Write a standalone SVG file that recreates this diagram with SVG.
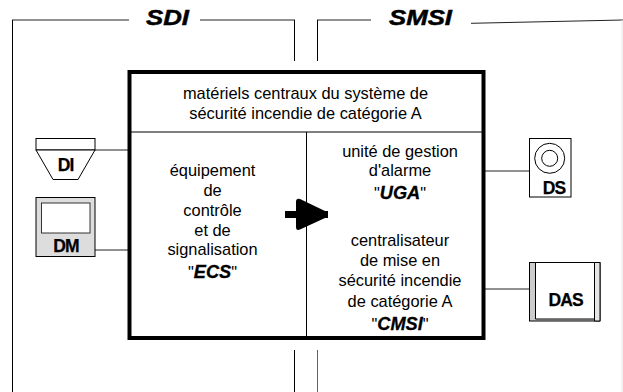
<svg xmlns="http://www.w3.org/2000/svg" width="623" height="392" viewBox="0 0 623 392">
<style>
text{font-family:"Liberation Sans",Arial,sans-serif;fill:#000}
.t{font-size:16.4px;text-anchor:middle}
.b{font-size:17.5px;font-weight:bold;text-anchor:middle;letter-spacing:-.8px;stroke:#000;stroke-width:.25px}
.h{font-size:22px;font-weight:bold;font-style:italic;stroke:#000;stroke-width:.5px}
.l{fill:none;stroke:#000;stroke-width:1}
.g{fill:none;stroke:#222;stroke-width:1}
.n{fill:#fff;stroke:#000;stroke-width:1}
.i{font-weight:bold;font-style:italic;font-size:18.2px;stroke:#000;stroke-width:.3px}
</style>
<rect width="623" height="392" fill="#fff"/>
<g id="connectors">
<path class="g" d="M12 20H129M200 20H295M317 20H371M471 23.300L623 20"/>
<path class="l" d="M12.500 20V392M294.500 20V61M317.500 20V61M294.500 350V392"/>
<path class="g" d="M317.500 350V392" stroke-opacity=".7"/>
<path d="M622 20V392" fill="none" stroke="#e4e4e4"/>
<path class="g" d="M95 150H128M95 250H128M485 171H529M485 289H529"/>
</g>
<g id="frames">
<text class="h" x="146" y="25" textLength="43" lengthAdjust="spacingAndGlyphs">SDI</text>
<text class="h" x="389" y="25" textLength="63" lengthAdjust="spacingAndGlyphs">SMSI</text>
</g>
<g id="central">
<rect x="129.500" y="72" width="354" height="266" fill="#fff" stroke="#000" stroke-width="4"/>
<path class="l" d="M130 132H483M306.500 132V338"/>
<text class="t" x="305.500" y="99.300">matériels centraux du système de</text>
<text class="t" x="305.500" y="119.300">sécurité incendie de catégorie A</text>
</g>
<g id="ecs">
<text class="t" x="212.500" y="176">équipement</text>
<text class="t" x="212.500" y="196">de</text>
<text class="t" x="212.500" y="216">contrôle</text>
<text class="t" x="212.500" y="236">et de</text>
<text class="t" x="212.500" y="255">signalisation</text>
<text class="t" x="212.500" y="278">"<tspan class="i">ECS</tspan>"</text>
</g>
<g id="uga">
<text class="t" x="400" y="156.700">unité de gestion</text>
<text class="t" x="400" y="176">d'alarme</text>
<text class="t" x="400" y="199">"<tspan class="i">UGA</tspan>"</text>
</g>
<g id="cmsi">
<text class="t" x="400" y="246">centralisateur</text>
<text class="t" x="400" y="266">de mise en</text>
<text class="t" x="400" y="286">sécurité incendie</text>
<text class="t" x="400" y="307">de catégorie A</text>
<text class="t" x="400" y="330">"<tspan class="i">CMSI</tspan>"</text>
</g>
<g id="arrow">
<path d="M285 211H296V202Q296 198 300 199L325 211H328V218H325L300 229.500Q296 231 296 227V218H285Z" fill="#000"/>
</g>
<g id="DI">
<rect class="n" x="36" y="138.500" width="59" height="11.500"/>
<path class="n" d="M36 150H95L78 179.500H53Z"/>
<text class="b" x="65.700" y="170.700">DI</text>
</g>
<g id="DM">
<rect x="36" y="197.500" width="59" height="59" fill="#ddd" stroke="#000"/>
<rect x="41.500" y="203" width="48.500" height="30" fill="#fff" stroke="#333"/>
<text class="b" x="66" y="252">DM</text>
</g>
<g id="DS">
<rect class="n" x="529.500" y="138.500" width="41.500" height="58.500"/>
<circle class="n" cx="549.700" cy="158.300" r="15"/>
<circle class="n" cx="549.700" cy="158.300" r="8"/>
<text class="b" x="554" y="194">DS</text>
</g>
<g id="DAS">
<rect x="529.500" y="262.500" width="70.500" height="58.500" fill="#ccc" stroke="#000"/>
<path d="M594.500 262.500H600V321H594.500Z" fill="#e6e6e6" stroke="#000"/>
<path class="n" d="M535.500 262.500V319H594.500V262.500Z"/>
<text class="b" x="565.700" y="306">DAS</text>
</g>
</svg>
